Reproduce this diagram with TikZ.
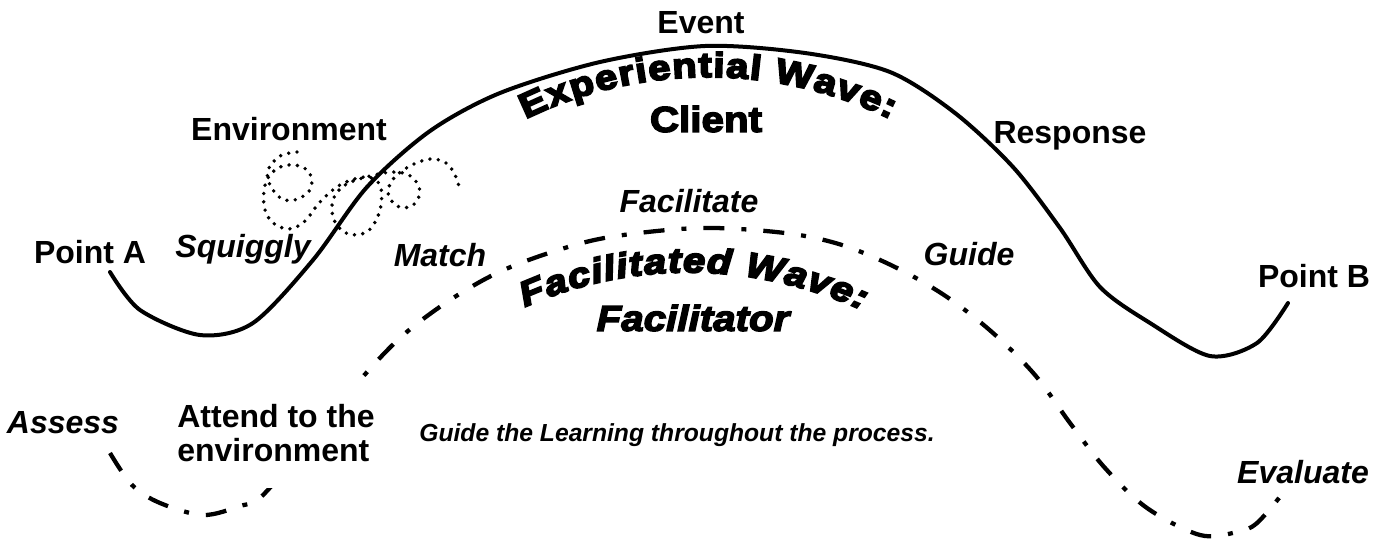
\documentclass[tikz,border=0pt]{standalone}
\usepackage{fontspec}
\setmainfont{Liberation Sans}
\newfontfamily\heavyfont{Liberation Sans}[BoldFeatures={FakeBold=4,FakeStretch=1.12},BoldItalicFeatures={FakeBold=4,FakeStretch=1.12}]
\newfontfamily\arcfont{Liberation Sans}[BoldFeatures={FakeBold=5.5,FakeStretch=1.15},BoldItalicFeatures={FakeBold=5.5,FakeStretch=1.15}]
\usetikzlibrary{decorations.text}
\begin{document}
\begin{tikzpicture}[x=0.75pt,y=-0.75pt,
 lbl/.style={font=\fontsize{24}{26}\selectfont\bfseries, anchor=base, inner sep=0pt},
 ilbl/.style={font=\fontsize{24}{26}\selectfont\bfseries\itshape, anchor=base, inner sep=0pt},
 heavylbl/.style={font=\heavyfont\fontsize{27}{28}\selectfont\bfseries, inner sep=0pt},
 wave/.style={line width=3pt, line cap=round},
 fwave/.style={line width=3.2pt, dash pattern=on 15.75pt off 12.75pt on 3.75pt off 12.75pt},
 squig/.style={line width=2.9pt, line cap=round, dash pattern=on 0pt off 6.3pt},
]
\useasboundingbox (0,0) rectangle (1387,540);

% experiential (solid) wave
\draw[wave] plot[smooth, tension=0.5] coordinates {(110,272) (140,310) (200,335) (253,323) (313,260) (367,187) (430,131) (500,93) (600,62) (705,46) (805,53) (890,72) (955,113) (1013,167) (1060,228) (1100,287) (1150,323) (1210,356) (1257,343) (1288,303)};

% facilitated (dash-dot) wave
\draw[fwave] plot[smooth, tension=0.55] coordinates {(110,453) (132,485) (160,503) (203,515) (240,506) (262,496) (310,440) (360,380) (401,337) (447,302) (497,273) (552,252) (610,237) (700,228) (785,233) (842,245) (897,268) (947,297) (993,333) (1035,375) (1070,423) (1105,468) (1147,508) (1200,535) (1237,532) (1257,523) (1283,493)};

% dotted squiggle
\draw[squig] plot[smooth, tension=0.6] coordinates {(297,152) (280,156) (268,170) (270,185) (282,199) (298,199) (311,188) (309,172) (295,165) (278,168) (266,182) (264,205) (272,222) (289,229) (305,221) (320,202) (340,185) (365,177) (380,185) (380,210) (368,231) (348,234) (334,220) (333,200) (345,185) (370,176) (395,172) (412,177) (420,192) (412,206) (397,206) (388,193) (394,178) (410,166) (430,159) (446,163) (455,175) (460,190)};

% curved titles
\path[decorate, decoration={text along path, text={|\arcfont\bfseries\fontsize{26}{28}\selectfont|Experiential Wave:}, text align=fit to path}]
  (525.6,119.1) .. controls (640.8,63) and (775.2,63) .. (890.4,119.1);
\path[decorate, decoration={text along path, text={|\arcfont\bfseries\itshape\fontsize{26}{28}\selectfont|Facilitated Wave:}, text align=fit to path}]
  (524.9,307.1) .. controls (630,260.3) and (750,260.3) .. (862,310);

\node[heavylbl] (client) at (706,119) {Client};
\node[heavylbl, font=\heavyfont\fontsize{27}{28}\selectfont\bfseries\itshape] (facilitator) at (693,318) {Facilitator};

% labels
\node[lbl] (event) at (701,33) {Event};
\node[lbl] (environment) at (289,140) {Environment};
\node[lbl] (response) at (1070,143) {Response};
\node[lbl] (pointa) at (90,263) {Point A};
\node[lbl] (pointb) at (1314,287) {Point B};
\node[ilbl] (squiggly) at (243,257) {Squiggly};
\node[ilbl] (match) at (440,266) {Match};
\node[ilbl] (facilitate) at (689,212) {Facilitate};
\node[ilbl] (guide) at (969,265) {Guide};
\node[ilbl] (assess) at (63,433) {Assess};
\node[ilbl] (evaluate) at (1303,483) {Evaluate};
\node[font=\fontsize{24}{25.5}\selectfont\bfseries, align=left, fill=white, inner xsep=3pt, inner ysep=20pt] (attend) at (276,433) {Attend to the\\environment};
\node[font=\fontsize{18.5}{21}\selectfont\bfseries\itshape, anchor=base, inner sep=0pt] (guidel) at (677,441) {Guide the Learning throughout the process.};
\end{tikzpicture}
\end{document}
